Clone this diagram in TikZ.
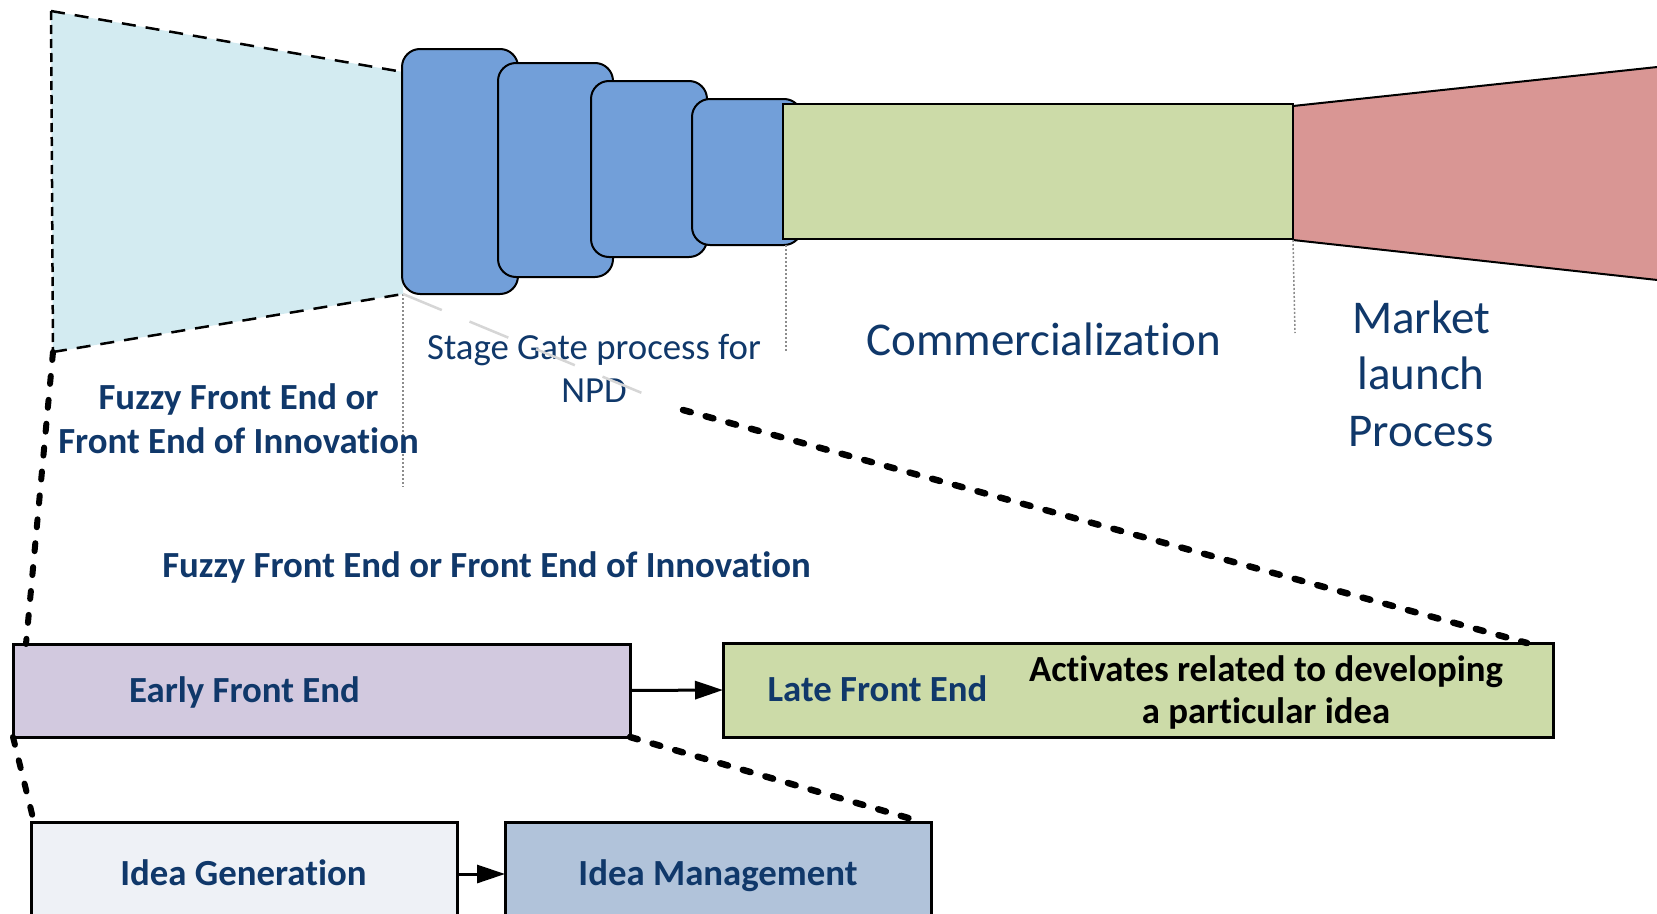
\documentclass[tikz,border=0pt]{standalone}
\usepackage{fontspec}
\setmainfont{Carlito}[Ligatures=NoCommon]
\usetikzlibrary{arrows.meta,calc}
\definecolor{navy}{HTML}{10386A}
\definecolor{fuzzyblue}{HTML}{D3EBF1}
\definecolor{gateblue}{HTML}{729FD9}
\definecolor{commgreen}{HTML}{CCDBA8}
\definecolor{marketred}{HTML}{D99694}
\definecolor{lavender}{HTML}{D2C9DF}
\definecolor{ideapale}{HTML}{EEF1F6}
\definecolor{ideablue}{HTML}{B1C3DA}
\begin{document}
\begin{tikzpicture}[x=1pt,y=-1pt,
  gatebox/.style={draw=black,line width=2pt,fill=gateblue,rounded corners=18pt,inner sep=0pt,outer sep=0pt},
  phasebox/.style={draw=black,line width=3pt,inner sep=0pt,outer sep=0pt},
  lbl/.style={text=navy,inner sep=0pt,anchor=base,align=center},
  boldlbl/.style={lbl,font=\fontsize{36.8}{44}\selectfont\bfseries},
  smalllbl/.style={lbl,font=\fontsize{36.8}{43}\selectfont},
  biglbl/.style={lbl,font=\fontsize{47}{56.5}\selectfont},
  trapdash/.style={line width=2.5pt,dash pattern=on 14pt off 10pt},
  trapdot/.style={line width=2.5pt,dash pattern=on 9pt off 5pt},
  bigdash/.style={line width=6pt,line cap=round,dash pattern=on 8pt off 16pt},
  bigdot/.style={line width=6.5pt,line cap=round,dash pattern=on 8pt off 15.5pt},
  guide/.style={draw=black!45,line width=1.5pt,dash pattern=on 2pt off 2pt},
  flowarrow/.style={line width=3pt,-{Triangle[length=28pt,width=18pt]}}]
\clip (0,0) rectangle (1657,913);
\fill[white] (0,0) rectangle (1657,913);

% fuzzy front end funnel
\coordinate (ftl) at (51,11);
\coordinate (ftr) at (403,72);
\coordinate (fbr) at (403,294);
\coordinate (fbl) at (53,352);
\fill[fuzzyblue] (ftl) -- (ftr) -- (fbr) -- (fbl) -- cycle;
\draw[trapdash] (ftl) -- (ftr);
\draw[trapdash] (fbl) -- (fbr);
\draw[trapdot] (ftl) -- (fbl);

% stage gates
\node[gatebox,minimum width=116pt,minimum height=245pt] (g1) at (460,171.5) {};
\node[gatebox,minimum width=115pt,minimum height=214pt] (g2) at (555.5,170) {};
\node[gatebox,minimum width=116pt,minimum height=176pt] (g3) at (649,169) {};
\node[gatebox,minimum width=110pt,minimum height=146pt] (g4) at (747,172) {};

% market launch funnel
\coordinate (mtl) at (1293,106);
\coordinate (mtr) at (1661,66.6);
\coordinate (mbr) at (1661,280.4);
\coordinate (mbl) at (1293,240);
\fill[marketred] (mtl) -- (mtr) -- (mbr) -- (mbl) -- cycle;
\draw[line width=2pt] (mtl) -- (mtr);
\draw[line width=2pt] (mbl) -- (mbr);

% commercialization
\node[draw=black,line width=2pt,fill=commgreen,inner sep=0pt,outer sep=0pt,
      minimum width=510pt,minimum height=135pt] (comm) at (1038,171.5) {};

% phase separators
\draw[guide] (fbr) -- (403,487);
\draw[guide] (786,245) -- (786,352);
\draw[guide] (mbl) -- (1295,333);

% top labels (base anchor sits on the last line)
\node[boldlbl] (fuzzylbl) at (238.5,453) {Fuzzy Front End or\\Front End of Innovation};
\node[smalllbl] (gatelbl) at (594,402) {Stage Gate process for\\NPD};
\node[biglbl] (commlbl) at (1043.5,355) {Commercialization};
\node[biglbl] (marketlbl) at (1421,446) {Market\\launch\\Process};

% zoom lines from the stage gate corner
\coordinate (zoomA) at (654,398);
\coordinate (zoomB) at (683,410);
\draw[line width=2.5pt,draw=black!16,dash pattern=on 42pt off 30pt] (fbr) -- (zoomA);

% front end phases
\node[boldlbl] (midlbl) at (486.5,577) {Fuzzy Front End or Front End of Innovation};
\node[phasebox,fill=lavender,minimum width=617pt,minimum height=93pt] (early) at (321.5,690.5) {};
\node[phasebox,fill=commgreen,minimum width=830pt,minimum height=94pt] (late) at (1138,690) {};
\node[boldlbl] (earlylbl) at (244.5,702) {Early Front End};
\node[boldlbl] (latelbl) at (877.5,701) {Late Front End};
\node[boldlbl,text=black,font=\fontsize{36.8}{42}\selectfont\bfseries] (actlbl) at (1266,723)
  {Activates related to developing\\a particular idea};
\draw[flowarrow] (early.east) -- (late.west);

% idea boxes
\node[phasebox,fill=ideapale,minimum width=426pt,minimum height=104pt] (ideagen) at (244,874) {};
\node[phasebox,fill=ideablue,minimum width=426pt,minimum height=104pt] (ideamgmt) at (718,874) {};
\node[boldlbl] (genlbl) at (243.5,885) {Idea Generation};
\node[boldlbl] (mgmtlbl) at (718,885) {Idea Management};
\draw[flowarrow] (ideagen.east) -- (ideamgmt.west);

% zoom connectors
\coordinate (earlyTop) at ($(early.north west)+(13,0)$);
\draw[bigdash] (fbl) -- (earlyTop);
\draw[bigdash] (early.south west) -- ($(ideagen.north west)+(3,0)$);
\draw[bigdot] (early.south east) -- ($(ideamgmt.north east)+(-9,0)$);
\draw[bigdot] (zoomB) -- ($(late.north east)+(-26,0)$);
\end{tikzpicture}
\end{document}
